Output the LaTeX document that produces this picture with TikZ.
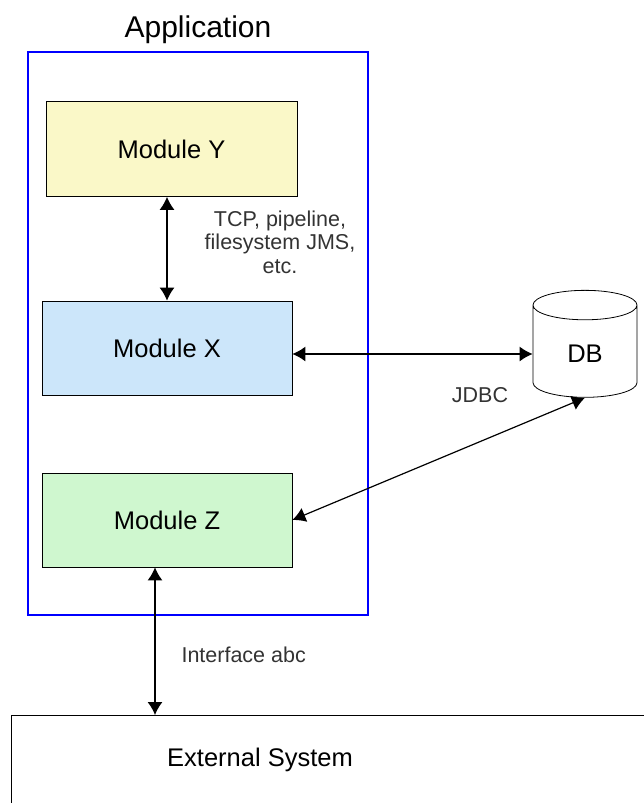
\documentclass[tikz,border=0pt]{standalone}
\usepackage{fontspec}
\setmainfont{Liberation Sans}
\usetikzlibrary{shapes.geometric,arrows.meta}
\definecolor{modyellow}{HTML}{FAF8C8}
\definecolor{modblue}{HTML}{CCE6FA}
\definecolor{modgreen}{HTML}{CFF7CF}
\begin{document}
\begin{tikzpicture}[
		module/.style={draw, line width=0.8pt, minimum width=250pt, minimum height=94pt, font=\fontsize{25.5}{30}\selectfont},
		note/.style={text=black!80, font=\fontsize{21.5}{23.5}\selectfont},
		arr/.style={{Latex[length=13pt,width=15pt]}-{Latex[length=13pt,width=15pt]}, line width=1.2pt}
	]
	\useasboundingbox (0,0) rectangle (644pt,-803pt);
	\clip (0,0) rectangle (644pt,-803pt);
	\node[font=\fontsize{30}{36}\selectfont] (apptitle) at (198pt,-30pt) {Application};
	\draw[blue, line width=2.4pt] (28pt,-52pt) rectangle (368pt,-615pt);
	\node[module, fill=modyellow, minimum width=251pt, minimum height=95pt] (mody) at (171.5pt,-149pt) {Module Y};
	\node[module, fill=modblue] (modx) at (167pt,-348pt) {Module X};
	\node[module, fill=modgreen] (modz) at (167pt,-520pt) {Module Z};
	\node[draw, shape=cylinder, shape border rotate=90, aspect=0.7, minimum width=104pt, minimum height=107pt, line width=0.8pt, font=\fontsize{25.5}{30}\selectfont] (db) at (585pt,-354pt) {DB};
	\node[draw, line width=0.8pt, anchor=north west, minimum width=700pt, minimum height=120pt] (ext) at (11pt,-715pt) {};
	\node[font=\fontsize{25.5}{30}\selectfont] (extname) at (260pt,-760pt) {External System};
	\draw[arr] (modx.north |- mody.south) -- (modx.north);
	\node[note, align=center] (tcp) at (280pt,-242pt) {TCP, pipeline,\\filesystem JMS,\\etc.};
	\draw[arr] (modx.east |- db.west) -- (db.west);
	\node[note] (jdbc) at (480pt,-395pt) {JDBC};
	\draw[arr] (modz.east) -- (db.south);
	\draw[arr] ([xshift=-12pt]modz.south) -- ([xshift=-12pt]modz.south |- ext.north);
	\node[note, anchor=west] (iface) at (178pt,-655pt) {Interface abc};
\end{tikzpicture}
\end{document}
